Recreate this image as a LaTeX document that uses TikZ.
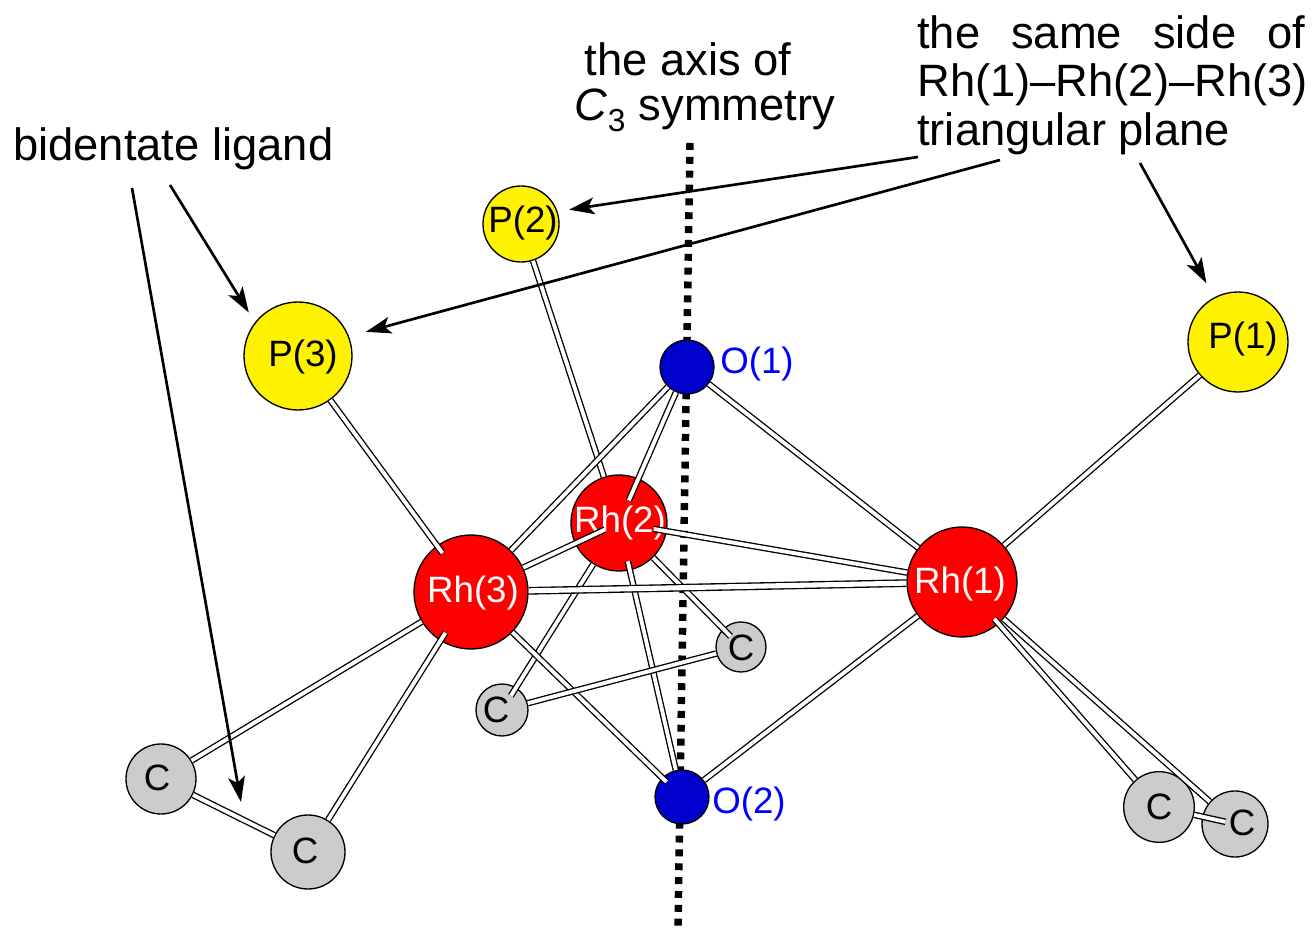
\documentclass[tikz,border=0pt]{standalone}
\usepackage{fontspec}
\setmainfont{Liberation Sans}
\usetikzlibrary{arrows.meta}
\tikzset{
  atom/.style={circle,draw=black,line width=1pt,inner sep=0pt},
  rhatom/.style={atom,fill=red},
  patom/.style={atom,fill=yellow},
  oatom/.style={atom,fill=oblue},
  catom/.style={atom,fill=cgray},
  every label/.style={font=\fontsize{27.5}{30}\selectfont,inner sep=0pt},
  bond/.style={draw=black,line width=1pt,double=white,double distance=2.9pt},
  frontbond/.style={bond,double distance=3.8pt},
  callout/.style={line width=2pt,black,-{Stealth[length=19pt,width=12.5pt,inset=4.5pt]}},
  captiontext/.style={font=\fontsize{34}{36.4}\selectfont,inner sep=0pt}
}
\definecolor{oblue}{HTML}{0000CC}
\definecolor{cgray}{HTML}{CCCCCC}
\begin{document}
\begin{tikzpicture}[x=0.75pt,y=-0.75pt]
  \useasboundingbox (0,0) rectangle (1315,930);
  \coordinate (axistop) at (690,143);
  \coordinate (axisbottom) at (678,926);
  \draw[line width=5.6pt,black,dash pattern=on 5.2pt off 5.19pt] (axistop)--(axisbottom);

  \node[rhatom,minimum size=82.5pt,label={[white,shift={(-2,2)}]center:Rh(1)}] (rhone) at (962,582) {};
  \node[rhatom,minimum size=72pt,label={[white,shift={(1,0)}]center:Rh(2)}] (rhtwo) at (619,523) {};
  \node[rhatom,minimum size=85.5pt,label={[white,shift={(2,1)}]center:Rh(3)}] (rhthree) at (471,592) {};
  \node[patom,minimum size=75pt,label={[shift={(5,-3)}]center:P(1)}] (pone) at (1238,342) {};
  \node[patom,minimum size=57pt,label={[shift={(2,-1)}]center:P(2)}] (ptwo) at (521,224) {};
  \node[patom,minimum size=81pt,label={[shift={(5,1)}]center:P(3)}] (pthree) at (298,356) {};
  \node[oatom,minimum size=40.5pt,label={[blue,shift={(70,-3)}]center:O(1)}] (oone) at (687,367) {};
  \node[oatom,minimum size=40.5pt,label={[blue,shift={(67,7)}]center:O(2)}] (otwo) at (682,797) {};
  \node[catom,minimum size=37.5pt,label={[shift={(0,1)}]center:C}] (cback) at (741,647) {};
  \node[catom,minimum size=39pt,label={[shift={(-6,0)}]center:C}] (cmid) at (502,710) {};
  \node[catom,minimum size=52.5pt,label={[shift={(-4,-1)}]center:C}] (cleft) at (161,779) {};
  \node[catom,minimum size=55.5pt,label={[shift={(-3,-1)}]center:C}] (clow) at (308,852) {};
  \node[catom,minimum size=53pt,label={center:C}] (cright) at (1159,807) {};
  \node[catom,minimum size=49.5pt,label={[shift={(7,-1)}]center:C}] (cfar) at (1235,824) {};

  \draw[bond] (ptwo)--(rhtwo);
  \draw[bond] (oone)--(rhthree);
  \draw[bond,shorten >=-18pt] (oone)--(rhtwo);
  \draw[bond] (oone)--(rhone);
  \draw[bond,shorten >=-7pt] (pthree)--(rhthree);
  \draw[bond] (pone)--(rhone);
  \draw[bond,shorten >=-25pt] (rhthree)--(rhtwo);
  \draw[bond,shorten <=-10pt] (rhtwo)--(rhone);
  \draw[bond,shorten >=-8pt] (rhtwo)--(cback);
  \draw[bond,shorten >=-7.5pt] (rhtwo)--(cmid);
  \draw[bond,shorten <=-7pt] (rhtwo)--(otwo);
  \draw[bond,shorten >=-4.5pt] (rhthree)--(otwo);
  \draw[bond] (rhone)--(otwo);
  \draw[bond] (cback)--(cmid);
  \draw[bond] (rhthree)--(cleft);
  \draw[bond,shorten <=-7pt] (rhthree)--(clow);
  \draw[bond] (cleft)--(clow);
  \draw[bond,shorten <=-5pt] (rhone)--(cright);
  \draw[bond] (rhone)--(cfar);
  \draw[bond,shorten >=-18pt] (cright)--(cfar);
  \draw[frontbond] (rhthree)--(rhone);

  \node[captiontext] (axisone) at (688,59) {the axis of};
  \node[captiontext] (axistwo) at (705,110) {\textit{C}\textsubscript{3} symmetry};
  \node[captiontext,anchor=north west,align=left] (sameside) at (917,15) {\makebox[291pt][s]{the same side of}\\Rh(1)--Rh(2)--Rh(3)\\triangular plane};
  \node[captiontext,anchor=west] (bidentate) at (13,149) {bidentate ligand};

  \coordinate (sameone) at (918,157);
  \coordinate (sametwo) at (1000,160);
  \coordinate (samethree) at (1140,163);
  \coordinate (bidone) at (170,185);
  \coordinate (bidtwo) at (132,188);
  \coordinate (bidtip) at (241,802);
  \draw[callout,shorten >=8.7pt] (sameone)--(ptwo.19);
  \draw[callout,shorten >=13pt] (sametwo)--(pthree.21);
  \draw[callout,shorten >=12pt] (samethree)--(pone.118);
  \draw[callout,shorten >=8.7pt] (bidone)--(pthree.142);
  \draw[callout] (bidtwo)--(bidtip);
\end{tikzpicture}
\end{document}
